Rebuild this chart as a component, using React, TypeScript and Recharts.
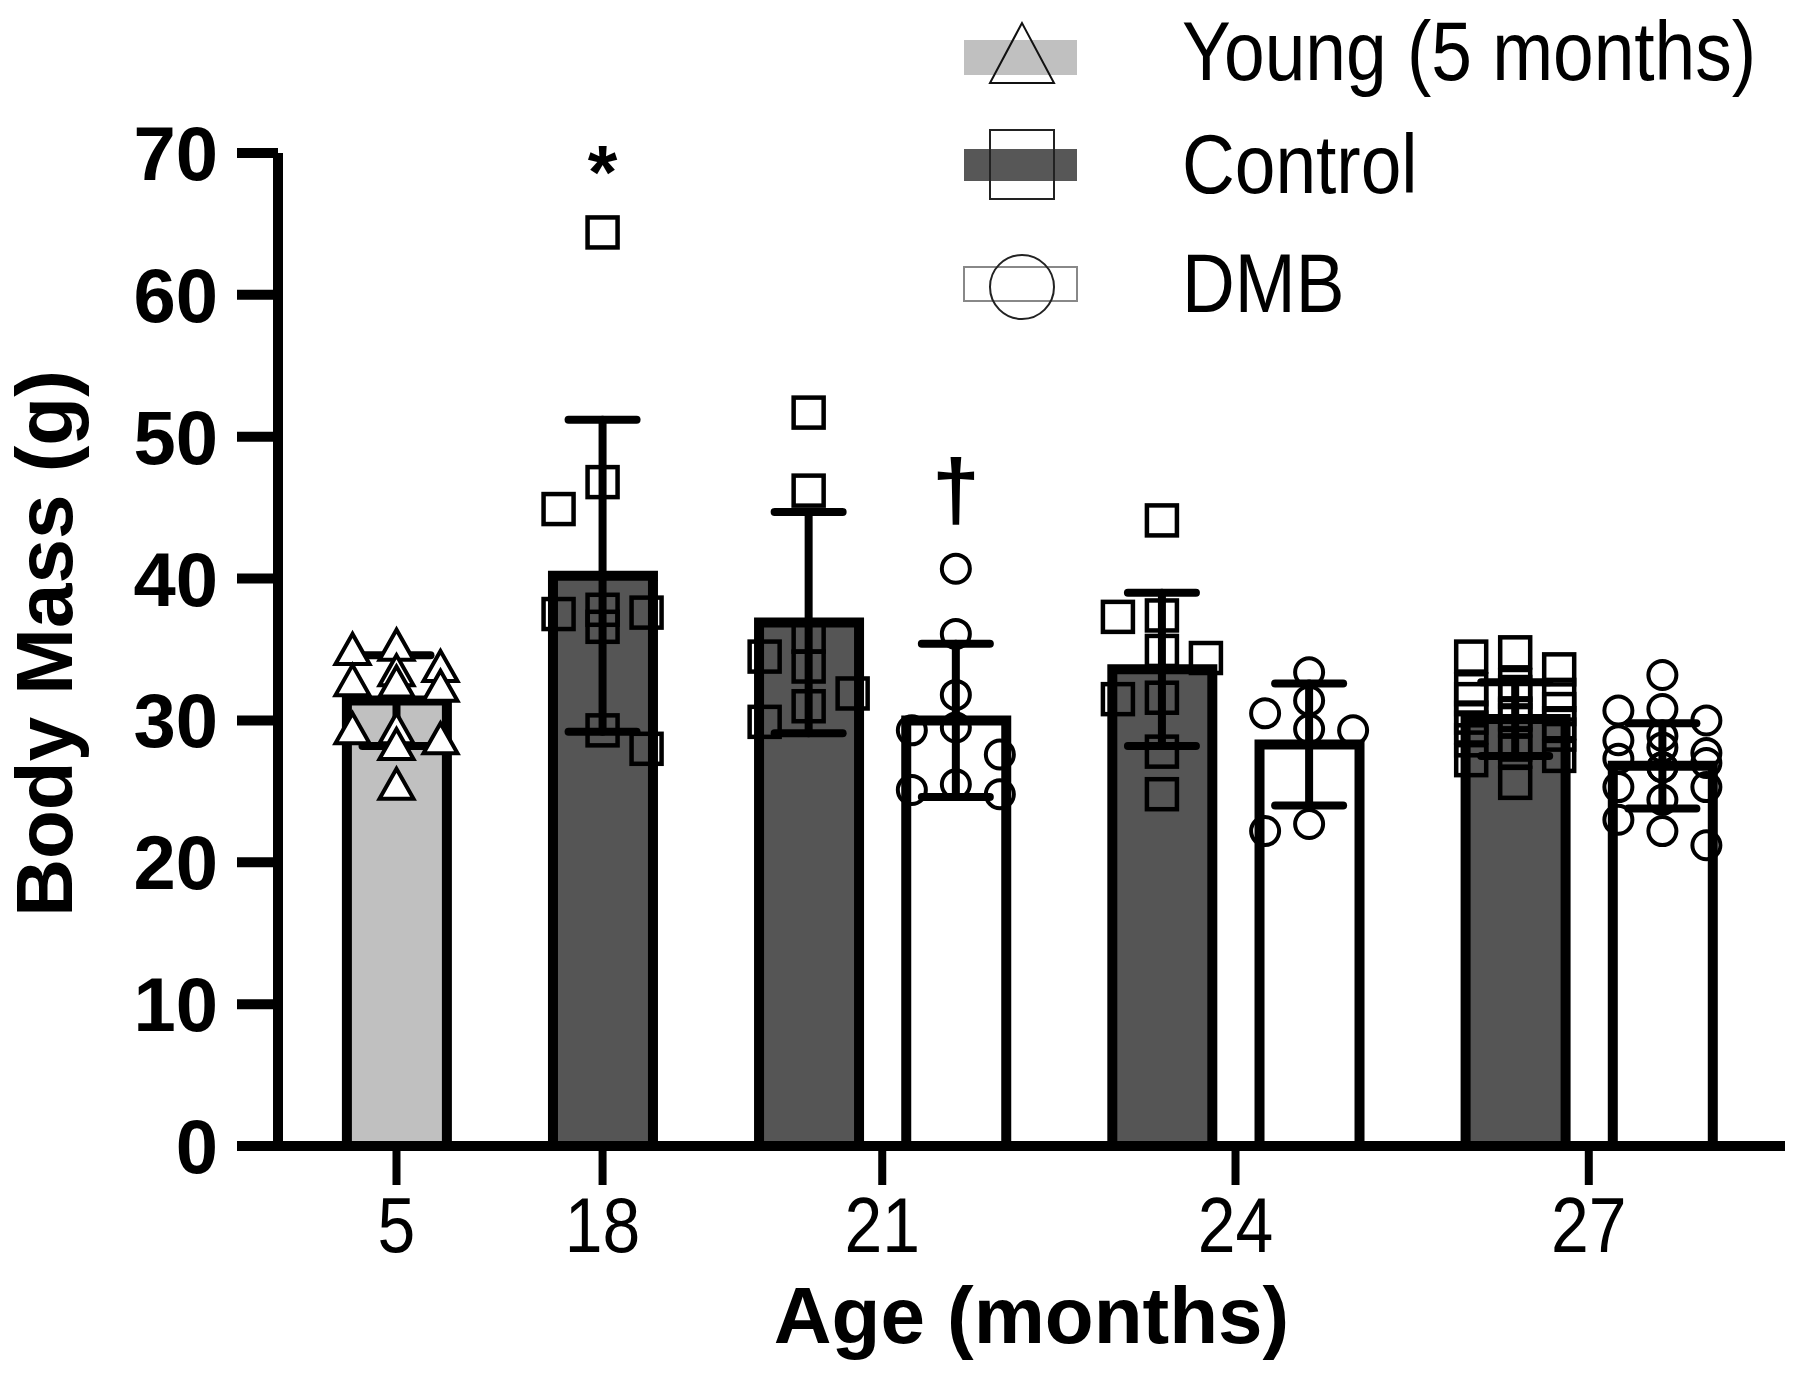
import React from "react";
import {
  ComposedChart,
  Bar,
  Cell,
  Scatter,
  ErrorBar,
  XAxis,
  YAxis,
  Legend,
} from "recharts";

// ---- data ----
const ages = ["5", "18", "21", "24", "27"];
const yTicks = [0, 10, 20, 30, 40, 50, 60, 70];

const youngMean = [31.4, null, null, null, null];
const youngSD = [3.2, null, null, null, null];
const controlMean = [null, 40.2, 36.9, 33.6, 30.1];
const controlSD = [null, 11.0, 7.8, 5.4, 2.6];
const dmbMean = [null, null, 30.0, 28.3, 26.8];
const dmbSD = [null, null, 5.4, 4.3, 3.0];

const youngPoints = [
  [35.2, 34.9, 33.7, 33.4, 32.7, 32.6, 32.3, 29.3, 29.3, 28.6, 28.2, 25.4],
  [],
  [],
  [],
  [],
];
const controlPoints = [
  [],
  [64.4, 46.8, 44.9, 37.8, 37.6, 37.5, 36.6, 29.3, 28.0],
  [51.7, 46.2, 35.9, 34.5, 33.8, 31.9, 31.0, 29.9],
  [44.1, 37.4, 37.3, 34.9, 34.4, 31.6, 31.5, 27.8, 24.8],
  [34.8, 34.5, 33.6, 32.5, 32.2, 32.0, 31.8, 31.5, 30.8, 30.5, 30.4, 30.2, 30.0, 29.8, 29.5, 29.0, 28.6, 28.3, 27.8, 27.5, 27.2, 25.6],
];
const dmbPoints = [
  [],
  [],
  [40.7, 36.1, 31.8, 29.5, 29.3, 27.6, 25.5, 25.1, 24.8],
  [33.4, 31.4, 30.5, 29.4, 29.3, 22.7, 22.2],
  [33.2, 30.8, 30.7, 30.0, 28.9, 28.6, 28.1, 27.7, 27.3, 27.0, 26.7, 26.7, 25.3, 25.3, 24.4, 23.0, 22.2, 21.2],
];

const annotations = [
  { age: "18", series: "control", value: 69.9, text: "*" },
  { age: "21", series: "dmb", value: 46.0, text: "†" },
];

// ---- layout ----
const W = 1800;
const H = 1382;
const PLOT_LEFT = 278;
const PLOT_RIGHT = 1785;
const PLOT_TOP = 153;
const PLOT_BOTTOM = 1146;
const GROUP_GAP = 0.4;
const X_MIN = -0.805;
const X_MAX = 9.433;
const PX_PER_X = (PLOT_RIGHT - PLOT_LEFT) / (X_MAX - X_MIN);
const PX_PER_Y = (PLOT_BOTTOM - PLOT_TOP) / 70;

const FONT = "'Liberation Sans', Arial, Helvetica, sans-serif";
const SQUEEZE = 0.87; // the figure's regular text is a condensed face

const series = [
  { key: "young", name: "Young (5 months)", means: youngMean, sds: youngSD, points: youngPoints, fill: "#c0c0c0" },
  { key: "control", name: "Control", means: controlMean, sds: controlSD, points: controlPoints, fill: "#555555" },
  { key: "dmb", name: "DMB", means: dmbMean, sds: dmbSD, points: dmbPoints, fill: "#ffffff" },
];

// spread points sideways so they do not pile up (pixel offsets),
// filling left and right alternately like a scatter dot plot
function swarm(values: number[]): number[] {
  const order = values.map((_, i) => i).sort((a, b) => values[b] - values[a]);
  const steps = [0, 22, 44, 11, 33, 55];
  const placed: { dx: number; y: number }[] = [];
  const out = new Array(values.length).fill(0);
  for (const i of order) {
    const y = values[i] * PX_PER_Y;
    const left = placed.filter((p) => p.dx < 0).length;
    const right = placed.filter((p) => p.dx > 0).length;
    const side = left <= right ? -1 : 1;
    const cands: number[] = [];
    steps.forEach((s) => (s === 0 ? cands.push(0) : cands.push(s * side, -s * side)));
    let best = 0;
    let bestHits = Infinity;
    for (const c of cands) {
      let hits = 0;
      for (const p of placed) {
        if (Math.abs(p.dx - c) < 30 && Math.abs(p.y - y) < 28) hits++;
      }
      if (hits < bestHits) {
        bestHits = hits;
        best = c;
      }
      if (hits === 0) break;
    }
    placed.push({ dx: best, y });
    out[i] = best;
  }
  return out;
}

type Slot = { x: number; mean: number; sd: number; fill: string; series: string; age: string };
const slots: Slot[] = [];
const groupCenters: number[] = [];
const pointsBySeries: Record<string, { x: number; y: number }[]> = { young: [], control: [], dmb: [] };

let slotIdx = 0;
ages.forEach((age, gi) => {
  const start = slotIdx + GROUP_GAP * gi;
  let members = 0;
  series.forEach((s) => {
    const m = s.means[gi];
    if (m == null) return;
    const x = slotIdx + GROUP_GAP * gi;
    slots.push({ x, mean: m, sd: s.sds[gi] as number, fill: s.fill, series: s.key, age });
    const vals = s.points[gi];
    const offs = swarm(vals);
    vals.forEach((v, i) => pointsBySeries[s.key].push({ x: x + offs[i] / PX_PER_X, y: v }));
    slotIdx++;
    members++;
  });
  groupCenters.push(start + (members - 1) / 2);
});

const annotationData = annotations.map((a) => {
  const slot = slots.find((s) => s.age === a.age && s.series === a.series)!;
  return { x: slot.x, y: a.value, text: a.text };
});

// ---- shapes ----
const TriangleDot = (props: any) => {
  const { cx, cy } = props;
  return (
    <polygon
      points={`${cx},${cy - 17} ${cx - 17},${cy + 13} ${cx + 17},${cy + 13}`}
      fill="#fff"
      stroke="#000"
      strokeWidth={4}
    />
  );
};

const SquareDot = (props: any) => {
  const { cx, cy } = props;
  return <rect x={cx - 15} y={cy - 15} width={30} height={30} fill="none" stroke="#000" strokeWidth={4.5} />;
};

const CircleDot = (props: any) => {
  const { cx, cy } = props;
  return <circle cx={cx} cy={cy} r={14} fill="none" stroke="#000" strokeWidth={4} />;
};

const NoDot = () => <g />;

const AnnotationText = (props: any) => {
  const { cx, cy, payload } = props;
  const star = payload.text === "*";
  return (
    <text
      x={cx}
      y={cy}
      dy={star ? "0.57em" : "0.3em"}
      textAnchor="middle"
      fontFamily={FONT}
      fontWeight={700}
      fontSize={star ? 76 : 86}
      fill="#000"
    >
      {payload.text}
    </text>
  );
};

const XTick = (props: any) => {
  const { x, y, index } = props;
  return (
    <text
      x={0}
      y={0}
      dy="0.71em"
      transform={`translate(${x},${y}) scale(${SQUEEZE},1)`}
      textAnchor="middle"
      fontFamily={FONT}
      fontSize={78}
      fill="#000"
    >
      {ages[index]}
    </text>
  );
};

const YTitle = (props: any) => {
  const vb = props.viewBox || { x: 0, y: PLOT_TOP, height: PLOT_BOTTOM - PLOT_TOP };
  const cx = vb.x + 44;
  const cy = vb.y + vb.height / 2 - 6;
  return (
    <text
      x={cx}
      y={cy}
      transform={`rotate(-90, ${cx}, ${cy})`}
      textAnchor="middle"
      dominantBaseline="central"
      fontFamily={FONT}
      fontWeight={700}
      fontSize={80}
      fill="#000"
    >
      Body Mass (g)
    </text>
  );
};

const XTitle = (props: any) => {
  const vb = props.viewBox || { x: PLOT_LEFT, y: PLOT_BOTTOM, width: PLOT_RIGHT - PLOT_LEFT };
  return (
    <text
      x={vb.x + vb.width / 2}
      y={vb.y + 197}
      textAnchor="middle"
      fontFamily={FONT}
      fontWeight={700}
      fontSize={80}
      fill="#000"
    >
      Age (months)
    </text>
  );
};

const LegendLabel = ({ y, text }: { y: number; text: string }) => (
  <text
    x={0}
    y={0}
    transform={`translate(227,${y}) scale(${SQUEEZE},1)`}
    fontFamily={FONT}
    fontSize={84}
    fill="#000"
  >
    {text}
  </text>
);

const LegendBox = () => (
  <svg width={840} height={340} style={{ display: "block" }}>
    {/* Young */}
    <rect x={9} y={40} width={113} height={35} fill="#c0c0c0" />
    <polygon points="67,23 35,83 99,83" fill="none" stroke="#111" strokeWidth={2} />
    <LegendLabel y={80} text={series[0].name} />
    {/* Control */}
    <rect x={9} y={149} width={113} height={32} fill="#575757" />
    <rect x={35} y={130} width={64} height={69} fill="none" stroke="#222" strokeWidth={2} />
    <LegendLabel y={193} text={series[1].name} />
    {/* DMB */}
    <rect x={9} y={267} width={113} height={34} fill="none" stroke="#888" strokeWidth={2} />
    <ellipse cx={67} cy={287} rx={32} ry={32} fill="none" stroke="#222" strokeWidth={2} />
    <LegendLabel y={312} text={series[2].name} />
  </svg>
);

const App: React.FC = () => {
  return (
    <div style={{ position: "absolute", left: 0, top: 0, background: "#fff" }}>
      <ComposedChart
        width={W}
        height={H}
        data={slots}
        margin={{ top: PLOT_TOP, right: W - PLOT_RIGHT, bottom: 0, left: 0 }}
      >
        <XAxis
          type="number"
          dataKey="x"
          domain={[X_MIN, X_MAX]}
          allowDataOverflow
          ticks={groupCenters}
          interval={0}
          height={H - PLOT_BOTTOM}
          axisLine={{ stroke: "#000", strokeWidth: 10 }}
          tickLine={{ stroke: "#000", strokeWidth: 8 }}
          tickSize={39}
          tickMargin={12}
          tick={XTick}
          label={XTitle}
        />
        <XAxis xAxisId="pts" type="number" dataKey="x" domain={[X_MIN, X_MAX]} allowDataOverflow hide />
        <YAxis
          type="number"
          domain={[0, 70]}
          ticks={yTicks}
          interval={0}
          width={PLOT_LEFT}
          axisLine={{ stroke: "#000", strokeWidth: 10 }}
          tickLine={{ stroke: "#000", strokeWidth: 10 }}
          tickSize={41}
          tickMargin={19}
          tick={{ fontSize: 76, fill: "#000", fontFamily: FONT, fontWeight: 700 }}
          label={YTitle}
        />
        <Bar dataKey="mean" barSize={100} stroke="#000" strokeWidth={10} isAnimationActive={false}>
          {slots.map((s, i) => (
            <Cell key={i} fill={s.fill} />
          ))}
        </Bar>
        <Scatter xAxisId="pts" name="Young (5 months)" data={pointsBySeries.young} dataKey="y" shape={TriangleDot} isAnimationActive={false} />
        <Scatter xAxisId="pts" name="Control" data={pointsBySeries.control} dataKey="y" shape={SquareDot} isAnimationActive={false} />
        <Scatter xAxisId="pts" name="DMB" data={pointsBySeries.dmb} dataKey="y" shape={CircleDot} isAnimationActive={false} />
        <Scatter data={slots} dataKey="mean" shape={NoDot} isAnimationActive={false}>
          <ErrorBar
            dataKey="sd"
            direction="y"
            width={34}
            stroke="#000"
            strokeWidth={8}
            strokeLinecap="round"
            isAnimationActive={false}
          />
        </Scatter>
        <Scatter data={annotationData} dataKey="y" shape={AnnotationText} isAnimationActive={false} />
        <Legend
          layout="vertical"
          align="center"
          verticalAlign="middle"
          content={LegendBox}
          wrapperStyle={{ position: "absolute", left: 955, top: 0, width: 840, height: 340 }}
        />
      </ComposedChart>
    </div>
  );
};

export default App;
